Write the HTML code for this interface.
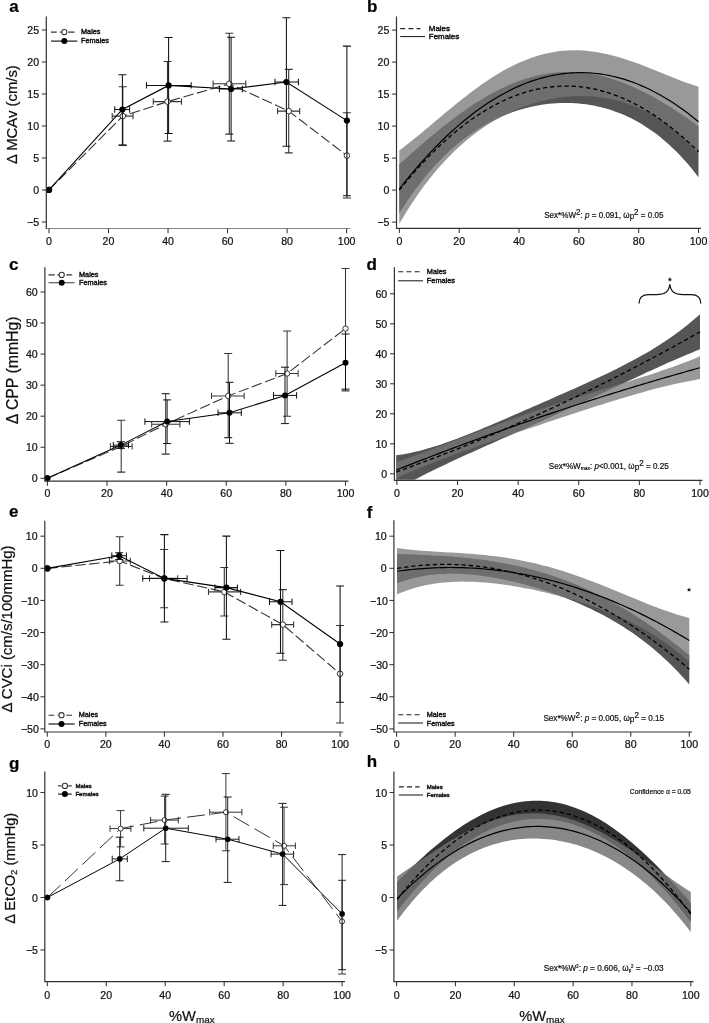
<!DOCTYPE html>
<html><head><meta charset="utf-8"><title>Figure</title>
<style>html,body{margin:0;padding:0;background:#fff}svg{display:block;filter:grayscale(1)}text{font-family:"Liberation Sans",sans-serif;stroke:#111;stroke-width:.22px}text.lg{stroke-width:.42px}</style></head>
<body>
<svg width="709" height="1023" viewBox="0 0 709 1023" font-family="Liberation Sans, sans-serif">
<rect width="709" height="1023" fill="#fff"/>
<clipPath id="cpb"><rect x="397.1" y="16.5" width="320" height="211.3"/></clipPath>
<g clip-path="url(#cpb)">
<path d="M399.3 164.3L403.04 160.96L406.78 157.63L410.52 154.31L414.26 151.01L418 147.74L421.74 144.5L425.48 141.29L429.22 138.11L432.96 134.98L436.7 131.89L440.44 128.84L444.18 125.85L447.92 122.91L451.66 120.03L455.4 117.21L459.14 114.45L462.88 111.76L466.62 109.14L470.36 106.59L474.1 104.12L477.84 101.72L481.58 99.4L485.32 97.17L489.06 95.02L492.8 92.95L496.54 90.97L500.28 89.09L504.02 87.29L507.76 85.59L511.5 83.98L515.24 82.47L518.98 81.05L522.72 79.74L526.46 78.52L530.2 77.41L533.94 76.4L537.68 75.48L541.42 74.68L545.16 73.97L548.9 73.37L552.64 72.88L556.38 72.49L560.12 72.2L563.86 72.02L567.6 71.94L571.34 71.97L575.08 72.1L578.82 72.33L582.56 72.67L586.3 73.11L590.04 73.65L593.78 74.29L597.52 75.04L601.26 75.88L605 76.81L608.74 77.85L612.48 78.98L616.22 80.2L619.96 81.51L623.7 82.91L627.44 84.4L631.18 85.98L634.92 87.64L638.66 89.38L642.4 91.21L646.14 93.1L649.88 95.08L653.62 97.12L657.36 99.24L661.1 101.42L664.84 103.66L668.58 105.96L672.32 108.32L676.06 110.74L679.8 113.2L683.54 115.72L687.28 118.27L691.02 120.87L694.76 123.5L698.5 126.16L698.5 177.25L694.76 172.41L691.02 167.78L687.28 163.36L683.54 159.14L679.8 155.12L676.06 151.29L672.32 147.65L668.58 144.19L664.84 140.9L661.1 137.78L657.36 134.83L653.62 132.03L649.88 129.39L646.14 126.9L642.4 124.55L638.66 122.35L634.92 120.28L631.18 118.35L627.44 116.54L623.7 114.87L619.96 113.31L616.22 111.88L612.48 110.56L608.74 109.35L605 108.25L601.26 107.27L597.52 106.39L593.78 105.61L590.04 104.94L586.3 104.36L582.56 103.89L578.82 103.51L575.08 103.22L571.34 103.03L567.6 102.94L563.86 102.94L560.12 103.02L556.38 103.21L552.64 103.48L548.9 103.84L545.16 104.3L541.42 104.84L537.68 105.48L533.94 106.21L530.2 107.04L526.46 107.96L522.72 108.97L518.98 110.08L515.24 111.29L511.5 112.6L507.76 114.01L504.02 115.53L500.28 117.15L496.54 118.87L492.8 120.71L489.06 122.66L485.32 124.73L481.58 126.92L477.84 129.22L474.1 131.66L470.36 134.22L466.62 136.91L462.88 139.74L459.14 142.72L455.4 145.83L451.66 149.1L447.92 152.52L444.18 156.09L440.44 159.83L436.7 163.74L432.96 167.82L429.22 172.08L425.48 176.53L421.74 181.16L418 185.99L414.26 191.02L410.52 196.26L406.78 201.72L403.04 207.4L399.3 213.3Z" fill="#555555" fill-opacity="1"/>
<path d="M399.3 150.58L403.04 147.74L406.78 144.84L410.52 141.87L414.26 138.86L418 135.79L421.74 132.7L425.48 129.57L429.22 126.43L432.96 123.28L436.7 120.12L440.44 116.97L444.18 113.84L447.92 110.72L451.66 107.63L455.4 104.57L459.14 101.56L462.88 98.58L466.62 95.66L470.36 92.8L474.1 89.99L477.84 87.26L481.58 84.6L485.32 82.01L489.06 79.5L492.8 77.08L496.54 74.75L500.28 72.5L504.02 70.36L507.76 68.31L511.5 66.36L515.24 64.52L518.98 62.79L522.72 61.16L526.46 59.64L530.2 58.23L533.94 56.94L537.68 55.76L541.42 54.69L545.16 53.74L548.9 52.91L552.64 52.19L556.38 51.58L560.12 51.09L563.86 50.72L567.6 50.45L571.34 50.3L575.08 50.26L578.82 50.33L582.56 50.51L586.3 50.79L590.04 51.17L593.78 51.65L597.52 52.23L601.26 52.9L605 53.67L608.74 54.52L612.48 55.45L616.22 56.45L619.96 57.54L623.7 58.69L627.44 59.9L631.18 61.17L634.92 62.5L638.66 63.87L642.4 65.29L646.14 66.74L649.88 68.22L653.62 69.72L657.36 71.24L661.1 72.76L664.84 74.29L668.58 75.81L672.32 77.31L676.06 78.79L679.8 80.24L683.54 81.65L687.28 83L691.02 84.3L694.76 85.53L698.5 86.69L698.5 154.14L694.76 149.91L691.02 145.88L687.28 142.05L683.54 138.42L679.8 134.98L676.06 131.72L672.32 128.64L668.58 125.73L664.84 122.98L661.1 120.4L657.36 117.97L653.62 115.7L649.88 113.57L646.14 111.58L642.4 109.73L638.66 108.01L634.92 106.43L631.18 104.97L627.44 103.63L623.7 102.41L619.96 101.31L616.22 100.33L612.48 99.45L608.74 98.68L605 98.01L601.26 97.45L597.52 96.99L593.78 96.62L590.04 96.36L586.3 96.18L582.56 96.11L578.82 96.12L575.08 96.22L571.34 96.42L567.6 96.7L563.86 97.08L560.12 97.54L556.38 98.09L552.64 98.73L548.9 99.46L545.16 100.27L541.42 101.18L537.68 102.17L533.94 103.26L530.2 104.43L526.46 105.7L522.72 107.07L518.98 108.53L515.24 110.08L511.5 111.74L507.76 113.49L504.02 115.35L500.28 117.32L496.54 119.39L492.8 121.58L489.06 123.87L485.32 126.29L481.58 128.83L477.84 131.49L474.1 134.27L470.36 137.19L466.62 140.24L462.88 143.44L459.14 146.77L455.4 150.25L451.66 153.89L447.92 157.68L444.18 161.64L440.44 165.77L436.7 170.06L432.96 174.54L429.22 179.2L425.48 184.05L421.74 189.1L418 194.35L414.26 199.8L410.52 205.48L406.78 211.37L403.04 217.5L399.3 223.86Z" fill="#777777" fill-opacity="0.75"/>
<path d="M399.3 190.12L403.04 185.5L406.78 180.99L410.52 176.58L414.26 172.28L418 168.09L421.74 164L425.48 160.01L429.22 156.13L432.96 152.35L436.7 148.68L440.44 145.11L444.18 141.65L447.92 138.29L451.66 135.03L455.4 131.88L459.14 128.84L462.88 125.9L466.62 123.07L470.36 120.33L474.1 117.71L477.84 115.19L481.58 112.77L485.32 110.46L489.06 108.25L492.8 106.15L496.54 104.16L500.28 102.26L504.02 100.48L507.76 98.79L511.5 97.21L515.24 95.74L518.98 94.37L522.72 93.11L526.46 91.95L530.2 90.89L533.94 89.94L537.68 89.1L541.42 88.36L545.16 87.72L548.9 87.19L552.64 86.76L556.38 86.44L560.12 86.22L563.86 86.11L567.6 86.1L571.34 86.2L575.08 86.4L578.82 86.71L582.56 87.12L586.3 87.64L590.04 88.26L593.78 88.98L597.52 89.81L601.26 90.75L605 91.79L608.74 92.93L612.48 94.18L616.22 95.53L619.96 96.99L623.7 98.56L627.44 100.22L631.18 102L634.92 103.87L638.66 105.85L642.4 107.94L646.14 110.13L649.88 112.43L653.62 114.83L657.36 117.34L661.1 119.95L664.84 122.66L668.58 125.48L672.32 128.4L676.06 131.43L679.8 134.57L683.54 137.81L687.28 141.15L691.02 144.6L694.76 148.15L698.5 151.81" fill="none" stroke="#000" stroke-width="1.3" stroke-dasharray="4.3 2.9"/>
<path d="M399.3 189L403.04 184.25L406.78 179.6L410.52 175.05L414.26 170.6L418 166.25L421.74 161.99L425.48 157.84L429.22 153.78L432.96 149.83L436.7 145.97L440.44 142.21L444.18 138.55L447.92 134.99L451.66 131.53L455.4 128.16L459.14 124.9L462.88 121.73L466.62 118.67L470.36 115.7L474.1 112.83L477.84 110.06L481.58 107.39L485.32 104.82L489.06 102.35L492.8 99.97L496.54 97.7L500.28 95.52L504.02 93.44L507.76 91.47L511.5 89.59L515.24 87.81L518.98 86.12L522.72 84.54L526.46 83.06L530.2 81.67L533.94 80.39L537.68 79.2L541.42 78.11L545.16 77.12L548.9 76.23L552.64 75.44L556.38 74.75L560.12 74.15L563.86 73.66L567.6 73.26L571.34 72.97L575.08 72.77L578.82 72.67L582.56 72.67L586.3 72.77L590.04 72.97L593.78 73.26L597.52 73.66L601.26 74.15L605 74.75L608.74 75.44L612.48 76.23L616.22 77.12L619.96 78.11L623.7 79.2L627.44 80.38L631.18 81.67L634.92 83.05L638.66 84.54L642.4 86.12L646.14 87.8L649.88 89.58L653.62 91.46L657.36 93.44L661.1 95.52L664.84 97.69L668.58 99.97L672.32 102.34L676.06 104.81L679.8 107.39L683.54 110.06L687.28 112.83L691.02 115.69L694.76 118.66L698.5 121.73" fill="none" stroke="#000" stroke-width="1.2"/>
</g>
<path d="M400.2 28.6H420.5" stroke="#222" stroke-width="1.1" stroke-dasharray="5 3.2"/>
<path d="M400.2 36.6H425" stroke="#111" stroke-width="1.0"/>
<text class="lg" x="428.8" y="31.46" font-size="7.95" fill="#111">Males</text>
<text class="lg" x="428.8" y="39.46" font-size="7.95" fill="#111">Females</text>
<clipPath id="cpd"><rect x="395" y="267.3" width="320" height="212.5"/></clipPath>
<g clip-path="url(#cpd)">
<path d="M396.2 455.33L400 454.8L403.8 454.18L407.59 453.47L411.39 452.69L415.19 451.84L418.99 450.91L422.78 449.92L426.58 448.87L430.38 447.76L434.18 446.6L437.97 445.39L441.77 444.13L445.57 442.83L449.37 441.48L453.16 440.1L456.96 438.69L460.76 437.25L464.56 435.78L468.35 434.28L472.15 432.76L475.95 431.22L479.75 429.66L483.54 428.08L487.34 426.49L491.14 424.89L494.94 423.27L498.73 421.65L502.53 420.02L506.33 418.38L510.12 416.74L513.92 415.09L517.72 413.43L521.52 411.78L525.32 410.12L529.11 408.46L532.91 406.8L536.71 405.13L540.5 403.47L544.3 401.8L548.1 400.14L551.9 398.47L555.69 396.8L559.49 395.12L563.29 393.45L567.09 391.77L570.88 390.08L574.68 388.39L578.48 386.69L582.28 384.98L586.08 383.26L589.87 381.53L593.67 379.78L597.47 378.02L601.26 376.25L605.06 374.45L608.86 372.63L612.66 370.79L616.45 368.92L620.25 367.02L624.05 365.08L627.85 363.12L631.64 361.11L635.44 359.06L639.24 356.97L643.04 354.83L646.84 352.64L650.63 350.39L654.43 348.08L658.23 345.71L662.02 343.27L665.82 340.76L669.62 338.18L673.42 335.51L677.21 332.76L681.01 329.92L684.81 326.98L688.61 323.94L692.4 320.8L696.2 317.55L700 314.18L700 349.36L696.2 350.87L692.4 352.4L688.61 353.96L684.81 355.54L681.01 357.15L677.21 358.78L673.42 360.42L669.62 362.09L665.82 363.77L662.02 365.47L658.23 367.18L654.43 368.9L650.63 370.63L646.84 372.37L643.04 374.13L639.24 375.88L635.44 377.65L631.64 379.42L627.85 381.19L624.05 382.97L620.25 384.75L616.45 386.53L612.66 388.32L608.86 390.1L605.06 391.88L601.26 393.66L597.47 395.44L593.67 397.22L589.87 398.99L586.08 400.76L582.28 402.53L578.48 404.29L574.68 406.05L570.88 407.8L567.09 409.55L563.29 411.29L559.49 413.03L555.69 414.76L551.9 416.49L548.1 418.21L544.3 419.93L540.5 421.64L536.71 423.35L532.91 425.05L529.11 426.75L525.32 428.45L521.52 430.14L517.72 431.83L513.92 433.52L510.12 435.21L506.33 436.89L502.53 438.58L498.73 440.26L494.94 441.94L491.14 443.63L487.34 445.32L483.54 447.02L479.75 448.71L475.95 450.42L472.15 452.13L468.35 453.84L464.56 455.57L460.76 457.31L456.96 459.05L453.16 460.81L449.37 462.59L445.57 464.38L441.77 466.18L437.97 468.01L434.18 469.85L430.38 471.72L426.58 473.61L422.78 475.52L418.99 477.46L415.19 479.43L411.39 481.43L407.59 483.46L403.8 485.53L400 487.63L396.2 489.77Z" fill="#555555" fill-opacity="1"/>
<path d="M396.2 461.99L400 460.73L403.8 459.44L407.59 458.13L411.39 456.8L415.19 455.45L418.99 454.08L422.78 452.7L426.58 451.31L430.38 449.91L434.18 448.49L437.97 447.07L441.77 445.64L445.57 444.2L449.37 442.76L453.16 441.31L456.96 439.87L460.76 438.42L464.56 436.97L468.35 435.53L472.15 434.08L475.95 432.64L479.75 431.21L483.54 429.78L487.34 428.35L491.14 426.93L494.94 425.52L498.73 424.11L502.53 422.72L506.33 421.33L510.12 419.95L513.92 418.59L517.72 417.23L521.52 415.88L525.32 414.54L529.11 413.21L532.91 411.9L536.71 410.59L540.5 409.29L544.3 408.01L548.1 406.73L551.9 405.47L555.69 404.22L559.49 402.97L563.29 401.74L567.09 400.51L570.88 399.3L574.68 398.09L578.48 396.89L582.28 395.7L586.08 394.51L589.87 393.33L593.67 392.15L597.47 390.98L601.26 389.81L605.06 388.64L608.86 387.48L612.66 386.31L616.45 385.15L620.25 383.98L624.05 382.81L627.85 381.63L631.64 380.45L635.44 379.26L639.24 378.07L643.04 376.86L646.84 375.64L650.63 374.41L654.43 373.16L658.23 371.9L662.02 370.61L665.82 369.31L669.62 367.99L673.42 366.64L677.21 365.26L681.01 363.86L684.81 362.43L688.61 360.96L692.4 359.46L696.2 357.93L700 356.35L700 379.08L696.2 379.72L692.4 380.41L688.61 381.13L684.81 381.89L681.01 382.68L677.21 383.51L673.42 384.36L669.62 385.25L665.82 386.16L662.02 387.1L658.23 388.06L654.43 389.04L650.63 390.05L646.84 391.08L643.04 392.13L639.24 393.2L635.44 394.28L631.64 395.38L627.85 396.5L624.05 397.63L620.25 398.77L616.45 399.93L612.66 401.1L608.86 402.28L605.06 403.47L601.26 404.67L597.47 405.87L593.67 407.09L589.87 408.31L586.08 409.54L582.28 410.78L578.48 412.02L574.68 413.26L570.88 414.51L567.09 415.77L563.29 417.03L559.49 418.29L555.69 419.55L551.9 420.82L548.1 422.1L544.3 423.37L540.5 424.65L536.71 425.93L532.91 427.21L529.11 428.49L525.32 429.78L521.52 431.07L517.72 432.36L513.92 433.66L510.12 434.96L506.33 436.26L502.53 437.57L498.73 438.88L494.94 440.19L491.14 441.51L487.34 442.83L483.54 444.16L479.75 445.5L475.95 446.84L472.15 448.19L468.35 449.55L464.56 450.92L460.76 452.3L456.96 453.69L453.16 455.08L449.37 456.49L445.57 457.92L441.77 459.36L437.97 460.81L434.18 462.27L430.38 463.76L426.58 465.26L422.78 466.78L418.99 468.32L415.19 469.89L411.39 471.47L407.59 473.08L403.8 474.71L400 476.38L396.2 478.06Z" fill="#777777" fill-opacity="0.75"/>
<path d="M396.2 472.03L400 470.67L403.8 469.3L407.59 467.92L411.39 466.54L415.19 465.14L418.99 463.73L422.78 462.31L426.58 460.88L430.38 459.44L434.18 458L437.97 456.54L441.77 455.07L445.57 453.59L449.37 452.1L453.16 450.61L456.96 449.1L460.76 447.58L464.56 446.05L468.35 444.51L472.15 442.97L475.95 441.41L479.75 439.84L483.54 438.26L487.34 436.68L491.14 435.08L494.94 433.47L498.73 431.85L502.53 430.23L506.33 428.59L510.12 426.94L513.92 425.29L517.72 423.62L521.52 421.94L525.32 420.25L529.11 418.56L532.91 416.85L536.71 415.13L540.5 413.41L544.3 411.67L548.1 409.92L551.9 408.17L555.69 406.4L559.49 404.62L563.29 402.84L567.09 401.04L570.88 399.24L574.68 397.42L578.48 395.59L582.28 393.76L586.08 391.91L589.87 390.06L593.67 388.19L597.47 386.31L601.26 384.43L605.06 382.53L608.86 380.63L612.66 378.71L616.45 376.78L620.25 374.85L624.05 372.9L627.85 370.95L631.64 368.98L635.44 367.01L639.24 365.02L643.04 363.03L646.84 361.02L650.63 359.01L654.43 356.98L658.23 354.95L662.02 352.9L665.82 350.85L669.62 348.78L673.42 346.71L677.21 344.62L681.01 342.53L684.81 340.42L688.61 338.31L692.4 336.18L696.2 334.05L700 331.91" fill="none" stroke="#000" stroke-width="1.3" stroke-dasharray="4.3 2.9"/>
<path d="M396.2 470.07L400 468.56L403.8 467.07L407.59 465.57L411.39 464.09L415.19 462.61L418.99 461.13L422.78 459.66L426.58 458.2L430.38 456.74L434.18 455.29L437.97 453.84L441.77 452.4L445.57 450.96L449.37 449.54L453.16 448.11L456.96 446.69L460.76 445.28L464.56 443.87L468.35 442.47L472.15 441.08L475.95 439.69L479.75 438.3L483.54 436.92L487.34 435.55L491.14 434.18L494.94 432.82L498.73 431.47L502.53 430.11L506.33 428.77L510.12 427.43L513.92 426.1L517.72 424.77L521.52 423.45L525.32 422.13L529.11 420.82L532.91 419.52L536.71 418.22L540.5 416.92L544.3 415.64L548.1 414.35L551.9 413.08L555.69 411.81L559.49 410.54L563.29 409.28L567.09 408.03L570.88 406.78L574.68 405.54L578.48 404.3L582.28 403.07L586.08 401.84L589.87 400.62L593.67 399.41L597.47 398.2L601.26 397L605.06 395.8L608.86 394.61L612.66 393.42L616.45 392.24L620.25 391.07L624.05 389.9L627.85 388.74L631.64 387.58L635.44 386.43L639.24 385.28L643.04 384.14L646.84 383.01L650.63 381.88L654.43 380.75L658.23 379.63L662.02 378.52L665.82 377.42L669.62 376.32L673.42 375.22L677.21 374.13L681.01 373.05L684.81 371.97L688.61 370.9L692.4 369.83L696.2 368.77L700 367.71" fill="none" stroke="#000" stroke-width="1.2"/>
</g>
<path d="M398.2 271.7H419.6" stroke="#222" stroke-width="1.1" stroke-dasharray="5 3.2"/>
<path d="M398.2 280.8H423" stroke="#111" stroke-width="1.0"/>
<text class="lg" x="426.8" y="274.35" font-size="7.36" fill="#111">Males</text>
<text class="lg" x="426.8" y="283.45" font-size="7.36" fill="#111">Females</text>
<clipPath id="cpf"><rect x="394.5" y="520.3" width="320" height="211.2"/></clipPath>
<g clip-path="url(#cpf)">
<path d="M397 553.95L400.65 554.08L404.31 554.21L407.96 554.34L411.62 554.47L415.27 554.61L418.92 554.76L422.58 554.91L426.23 555.08L429.88 555.25L433.54 555.44L437.19 555.64L440.84 555.86L444.5 556.09L448.15 556.34L451.81 556.61L455.46 556.9L459.11 557.21L462.77 557.55L466.42 557.9L470.07 558.29L473.73 558.7L477.38 559.13L481.04 559.6L484.69 560.09L488.34 560.62L492 561.18L495.65 561.77L499.3 562.39L502.96 563.04L506.61 563.74L510.27 564.46L513.92 565.23L517.57 566.03L521.23 566.87L524.88 567.75L528.53 568.67L532.19 569.63L535.84 570.63L539.5 571.68L543.15 572.77L546.8 573.89L550.46 575.07L554.11 576.29L557.76 577.55L561.42 578.86L565.07 580.21L568.73 581.61L572.38 583.06L576.03 584.55L579.69 586.09L583.34 587.68L587 589.32L590.65 591.01L594.3 592.74L597.96 594.53L601.61 596.36L605.26 598.24L608.92 600.17L612.57 602.16L616.22 604.19L619.88 606.27L623.53 608.4L627.19 610.58L630.84 612.81L634.49 615.09L638.15 617.42L641.8 619.81L645.45 622.24L649.11 624.72L652.76 627.25L656.42 629.83L660.07 632.45L663.72 635.13L667.38 637.86L671.03 640.63L674.68 643.45L678.34 646.32L681.99 649.24L685.65 652.2L689.3 655.21L689.3 684.55L685.65 680.33L681.99 676.25L678.34 672.32L674.68 668.52L671.03 664.85L667.38 661.31L663.72 657.88L660.07 654.58L656.42 651.38L652.76 648.3L649.11 645.31L645.45 642.43L641.8 639.64L638.15 636.95L634.49 634.34L630.84 631.82L627.19 629.39L623.53 627.03L619.88 624.74L616.22 622.53L612.57 620.39L608.92 618.31L605.26 616.3L601.61 614.35L597.96 612.46L594.3 610.63L590.65 608.86L587 607.13L583.34 605.46L579.69 603.84L576.03 602.26L572.38 600.73L568.73 599.25L565.07 597.81L561.42 596.41L557.76 595.05L554.11 593.74L550.46 592.46L546.8 591.23L543.15 590.03L539.5 588.87L535.84 587.75L532.19 586.67L528.53 585.62L524.88 584.61L521.23 583.65L517.57 582.72L513.92 581.83L510.27 580.97L506.61 580.16L502.96 579.39L499.3 578.67L495.65 577.98L492 577.35L488.34 576.75L484.69 576.21L481.04 575.71L477.38 575.27L473.73 574.87L470.07 574.54L466.42 574.25L462.77 574.03L459.11 573.87L455.46 573.77L451.81 573.74L448.15 573.78L444.5 573.89L440.84 574.07L437.19 574.33L433.54 574.67L429.88 575.1L426.23 575.62L422.58 576.22L418.92 576.92L415.27 577.72L411.62 578.62L407.96 579.63L404.31 580.76L400.65 581.99L397 583.35Z" fill="#555555" fill-opacity="1"/>
<path d="M397 548.09L400.65 548.6L404.31 549.05L407.96 549.47L411.62 549.84L415.27 550.19L418.92 550.5L422.58 550.78L426.23 551.04L429.88 551.29L433.54 551.52L437.19 551.74L440.84 551.96L444.5 552.17L448.15 552.38L451.81 552.59L455.46 552.81L459.11 553.04L462.77 553.28L466.42 553.53L470.07 553.8L473.73 554.09L477.38 554.4L481.04 554.73L484.69 555.09L488.34 555.48L492 555.89L495.65 556.34L499.3 556.82L502.96 557.33L506.61 557.87L510.27 558.45L513.92 559.07L517.57 559.72L521.23 560.41L524.88 561.14L528.53 561.91L532.19 562.72L535.84 563.57L539.5 564.46L543.15 565.39L546.8 566.35L550.46 567.36L554.11 568.4L557.76 569.48L561.42 570.6L565.07 571.76L568.73 572.95L572.38 574.17L576.03 575.43L579.69 576.72L583.34 578.04L587 579.39L590.65 580.76L594.3 582.16L597.96 583.58L601.61 585.02L605.26 586.49L608.92 587.96L612.57 589.45L616.22 590.95L619.88 592.46L623.53 593.98L627.19 595.49L630.84 597.01L634.49 598.52L638.15 600.02L641.8 601.52L645.45 602.99L649.11 604.45L652.76 605.88L656.42 607.29L660.07 608.67L663.72 610.01L667.38 611.31L671.03 612.57L674.68 613.78L678.34 614.93L681.99 616.03L685.65 617.06L689.3 618.02L689.3 662.16L685.65 658.89L681.99 655.75L678.34 652.72L674.68 649.81L671.03 647.01L667.38 644.32L663.72 641.72L660.07 639.22L656.42 636.82L652.76 634.5L649.11 632.27L645.45 630.12L641.8 628.05L638.15 626.05L634.49 624.13L630.84 622.27L627.19 620.48L623.53 618.75L619.88 617.08L616.22 615.46L612.57 613.9L608.92 612.39L605.26 610.93L601.61 609.52L597.96 608.15L594.3 606.82L590.65 605.54L587 604.29L583.34 603.09L579.69 601.92L576.03 600.78L572.38 599.68L568.73 598.61L565.07 597.58L561.42 596.57L557.76 595.6L554.11 594.65L550.46 593.74L546.8 592.85L543.15 591.99L539.5 591.17L535.84 590.37L532.19 589.6L528.53 588.85L524.88 588.14L521.23 587.46L517.57 586.81L513.92 586.19L510.27 585.61L506.61 585.06L502.96 584.54L499.3 584.06L495.65 583.61L492 583.21L488.34 582.85L484.69 582.52L481.04 582.25L477.38 582.02L473.73 581.84L470.07 581.71L466.42 581.63L462.77 581.61L459.11 581.65L455.46 581.74L451.81 581.91L448.15 582.14L444.5 582.44L440.84 582.81L437.19 583.26L433.54 583.8L429.88 584.41L426.23 585.12L422.58 585.91L418.92 586.8L415.27 587.8L411.62 588.89L407.96 590.1L404.31 591.42L400.65 592.85L397 594.41Z" fill="#777777" fill-opacity="0.75"/>
<path d="M397 568.43L400.65 567.84L404.31 567.29L407.96 566.79L411.62 566.34L415.27 565.93L418.92 565.58L422.58 565.26L426.23 565L429.88 564.78L433.54 564.61L437.19 564.49L440.84 564.41L444.5 564.38L448.15 564.4L451.81 564.46L455.46 564.57L459.11 564.73L462.77 564.93L466.42 565.19L470.07 565.48L473.73 565.83L477.38 566.22L481.04 566.66L484.69 567.15L488.34 567.68L492 568.26L495.65 568.89L499.3 569.56L502.96 570.28L506.61 571.05L510.27 571.87L513.92 572.73L517.57 573.64L521.23 574.59L524.88 575.59L528.53 576.64L532.19 577.74L535.84 578.88L539.5 580.07L543.15 581.31L546.8 582.59L550.46 583.92L554.11 585.3L557.76 586.72L561.42 588.2L565.07 589.71L568.73 591.28L572.38 592.89L576.03 594.55L579.69 596.26L583.34 598.01L587 599.81L590.65 601.66L594.3 603.55L597.96 605.49L601.61 607.48L605.26 609.51L608.92 611.59L612.57 613.72L616.22 615.9L619.88 618.12L623.53 620.39L627.19 622.71L630.84 625.07L634.49 627.48L638.15 629.94L641.8 632.44L645.45 634.99L649.11 637.59L652.76 640.23L656.42 642.92L660.07 645.66L663.72 648.45L667.38 651.28L671.03 654.16L674.68 657.08L678.34 660.06L681.99 663.08L685.65 666.14L689.3 669.26" fill="none" stroke="#000" stroke-width="1.3" stroke-dasharray="4.3 2.9"/>
<path d="M397 571.23L400.65 570.74L404.31 570.29L407.96 569.87L411.62 569.48L415.27 569.13L418.92 568.82L422.58 568.54L426.23 568.29L429.88 568.08L433.54 567.9L437.19 567.75L440.84 567.64L444.5 567.57L448.15 567.52L451.81 567.52L455.46 567.54L459.11 567.6L462.77 567.7L466.42 567.83L470.07 567.99L473.73 568.19L477.38 568.42L481.04 568.69L484.69 568.99L488.34 569.33L492 569.7L495.65 570.1L499.3 570.54L502.96 571.01L506.61 571.52L510.27 572.06L513.92 572.63L517.57 573.24L521.23 573.88L524.88 574.56L528.53 575.27L532.19 576.02L535.84 576.8L539.5 577.62L543.15 578.46L546.8 579.35L550.46 580.27L554.11 581.22L557.76 582.2L561.42 583.22L565.07 584.28L568.73 585.37L572.38 586.49L576.03 587.65L579.69 588.84L583.34 590.07L587 591.33L590.65 592.62L594.3 593.95L597.96 595.32L601.61 596.71L605.26 598.14L608.92 599.61L612.57 601.11L616.22 602.65L619.88 604.21L623.53 605.82L627.19 607.45L630.84 609.13L634.49 610.83L638.15 612.57L641.8 614.35L645.45 616.16L649.11 618L652.76 619.88L656.42 621.79L660.07 623.73L663.72 625.71L667.38 627.73L671.03 629.78L674.68 631.86L678.34 633.98L681.99 636.13L685.65 638.31L689.3 640.53" fill="none" stroke="#000" stroke-width="1.2"/>
</g>
<path d="M398.2 714.7H419.6" stroke="#222" stroke-width="1.1" stroke-dasharray="5 3.2"/>
<path d="M398.2 723H423" stroke="#111" stroke-width="1.0"/>
<text class="lg" x="426.8" y="717.31" font-size="7.25" fill="#111">Males</text>
<text class="lg" x="426.8" y="725.61" font-size="7.25" fill="#111">Females</text>
<clipPath id="cph"><rect x="394.5" y="771.6" width="320" height="209.5"/></clipPath>
<g clip-path="url(#cph)">
<path d="M397.1 882.02L400.77 878.31L404.44 874.64L408.11 871.03L411.79 867.47L415.46 863.97L419.13 860.53L422.8 857.15L426.47 853.85L430.14 850.62L433.81 847.47L437.48 844.39L441.16 841.4L444.83 838.5L448.5 835.68L452.17 832.96L455.84 830.33L459.51 827.79L463.18 825.36L466.85 823.03L470.52 820.81L474.2 818.69L477.87 816.68L481.54 814.78L485.21 813L488.88 811.33L492.55 809.78L496.22 808.34L499.89 807.03L503.57 805.83L507.24 804.76L510.91 803.81L514.58 802.98L518.25 802.29L521.92 801.71L525.59 801.27L529.26 800.95L532.94 800.75L536.61 800.69L540.28 800.76L543.95 800.95L547.62 801.28L551.29 801.73L554.96 802.31L558.63 803.02L562.31 803.85L565.98 804.82L569.65 805.91L573.32 807.13L576.99 808.47L580.66 809.94L584.33 811.53L588 813.25L591.68 815.08L595.35 817.04L599.02 819.11L602.69 821.3L606.36 823.6L610.03 826.02L613.7 828.55L617.38 831.19L621.05 833.94L624.72 836.79L628.39 839.75L632.06 842.81L635.73 845.96L639.4 849.21L643.07 852.55L646.74 855.98L650.42 859.5L654.09 863.11L657.76 866.79L661.43 870.55L665.1 874.38L668.77 878.29L672.44 882.26L676.12 886.29L679.79 890.39L683.46 894.54L687.13 898.74L690.8 902.98L690.8 921.95L687.13 917.16L683.46 912.47L679.79 907.9L676.12 903.43L672.44 899.07L668.77 894.82L665.1 890.68L661.43 886.65L657.76 882.73L654.09 878.92L650.42 875.23L646.74 871.65L643.07 868.18L639.4 864.83L635.73 861.59L632.06 858.46L628.39 855.45L624.72 852.56L621.05 849.78L617.38 847.12L613.7 844.57L610.03 842.15L606.36 839.84L602.69 837.65L599.02 835.58L595.35 833.63L591.68 831.79L588 830.08L584.33 828.49L580.66 827.02L576.99 825.67L573.32 824.44L569.65 823.33L565.98 822.34L562.31 821.48L558.63 820.74L554.96 820.12L551.29 819.62L547.62 819.25L543.95 819L540.28 818.88L536.61 818.88L532.94 819L529.26 819.25L525.59 819.62L521.92 820.11L518.25 820.73L514.58 821.48L510.91 822.35L507.24 823.35L503.57 824.47L499.89 825.71L496.22 827.08L492.55 828.58L488.88 830.2L485.21 831.95L481.54 833.83L477.87 835.83L474.2 837.95L470.52 840.2L466.85 842.58L463.18 845.08L459.51 847.71L455.84 850.47L452.17 853.34L448.5 856.35L444.83 859.48L441.16 862.74L437.48 866.12L433.81 869.62L430.14 873.26L426.47 877.01L422.8 880.89L419.13 884.9L415.46 889.03L411.79 893.28L408.11 897.66L404.44 902.17L400.77 906.79L397.1 911.54Z" fill="#333333" fill-opacity="1"/>
<path d="M397.1 876.6L400.77 874.11L404.44 871.59L408.11 869.06L411.79 866.52L415.46 863.97L419.13 861.43L422.8 858.91L426.47 856.4L430.14 853.91L433.81 851.45L437.48 849.03L441.16 846.66L444.83 844.33L448.5 842.05L452.17 839.83L455.84 837.67L459.51 835.59L463.18 833.57L466.85 831.63L470.52 829.77L474.2 827.99L477.87 826.31L481.54 824.71L485.21 823.21L488.88 821.8L492.55 820.5L496.22 819.3L499.89 818.2L503.57 817.21L507.24 816.33L510.91 815.56L514.58 814.9L518.25 814.36L521.92 813.93L525.59 813.62L529.26 813.42L532.94 813.34L536.61 813.37L540.28 813.53L543.95 813.8L547.62 814.18L551.29 814.68L554.96 815.3L558.63 816.03L562.31 816.88L565.98 817.83L569.65 818.89L573.32 820.07L576.99 821.34L580.66 822.72L584.33 824.2L588 825.78L591.68 827.46L595.35 829.22L599.02 831.08L602.69 833.01L606.36 835.03L610.03 837.13L613.7 839.3L617.38 841.54L621.05 843.84L624.72 846.2L628.39 848.62L632.06 851.08L635.73 853.59L639.4 856.14L643.07 858.71L646.74 861.31L650.42 863.94L654.09 866.57L657.76 869.21L661.43 871.85L665.1 874.48L668.77 877.09L672.44 879.69L676.12 882.25L679.79 884.77L683.46 887.24L687.13 889.66L690.8 892.01L690.8 932.1L687.13 927.31L683.46 922.68L679.79 918.22L676.12 913.9L672.44 909.74L668.77 905.73L665.1 901.86L661.43 898.13L657.76 894.53L654.09 891.07L650.42 887.75L646.74 884.55L643.07 881.47L639.4 878.52L635.73 875.69L632.06 872.97L628.39 870.38L624.72 867.89L621.05 865.52L617.38 863.25L613.7 861.1L610.03 859.04L606.36 857.1L602.69 855.25L599.02 853.51L595.35 851.86L591.68 850.32L588 848.87L584.33 847.52L580.66 846.27L576.99 845.11L573.32 844.04L569.65 843.07L565.98 842.19L562.31 841.41L558.63 840.72L554.96 840.12L551.29 839.62L547.62 839.21L543.95 838.89L540.28 838.67L536.61 838.54L532.94 838.51L529.26 838.57L525.59 838.73L521.92 838.99L518.25 839.35L514.58 839.81L510.91 840.37L507.24 841.04L503.57 841.8L499.89 842.68L496.22 843.66L492.55 844.76L488.88 845.96L485.21 847.28L481.54 848.72L477.87 850.28L474.2 851.96L470.52 853.76L466.85 855.69L463.18 857.74L459.51 859.93L455.84 862.26L452.17 864.72L448.5 867.33L444.83 870.08L441.16 872.98L437.48 876.03L433.81 879.24L430.14 882.61L426.47 886.14L422.8 889.85L419.13 893.72L415.46 897.77L411.79 902L408.11 906.42L404.44 911.02L400.77 915.82L397.1 920.82Z" fill="#707070" fill-opacity="0.833"/>
<path d="M397.1 899.44L400.77 894.86L404.44 890.39L408.11 886.05L411.79 881.82L415.46 877.72L419.13 873.74L422.8 869.88L426.47 866.14L430.14 862.52L433.81 859.02L437.48 855.64L441.16 852.39L444.83 849.25L448.5 846.23L452.17 843.34L455.84 840.57L459.51 837.91L463.18 835.38L466.85 832.97L470.52 830.68L474.2 828.51L477.87 826.46L481.54 824.53L485.21 822.72L488.88 821.04L492.55 819.47L496.22 818.02L499.89 816.7L503.57 815.5L507.24 814.41L510.91 813.45L514.58 812.61L518.25 811.89L521.92 811.29L525.59 810.81L529.26 810.45L532.94 810.22L536.61 810.1L540.28 810.1L543.95 810.23L547.62 810.47L551.29 810.84L554.96 811.33L558.63 811.94L562.31 812.67L565.98 813.52L569.65 814.49L573.32 815.58L576.99 816.79L580.66 818.12L584.33 819.58L588 821.15L591.68 822.85L595.35 824.66L599.02 826.6L602.69 828.66L606.36 830.84L610.03 833.14L613.7 835.56L617.38 838.1L621.05 840.76L624.72 843.54L628.39 846.44L632.06 849.47L635.73 852.61L639.4 855.88L643.07 859.26L646.74 862.77L650.42 866.4L654.09 870.15L657.76 874.02L661.43 878.01L665.1 882.12L668.77 886.35L672.44 890.7L676.12 895.18L679.79 899.77L683.46 904.49L687.13 909.32L690.8 914.28" fill="none" stroke="#000" stroke-width="1.3" stroke-dasharray="4.3 2.9"/>
<path d="M397.1 898.75L400.77 895.01L404.44 891.38L408.11 887.85L411.79 884.41L415.46 881.07L419.13 877.84L422.8 874.7L426.47 871.66L430.14 868.72L433.81 865.88L437.48 863.13L441.16 860.49L444.83 857.94L448.5 855.5L452.17 853.15L455.84 850.9L459.51 848.75L463.18 846.7L466.85 844.75L470.52 842.89L474.2 841.14L477.87 839.48L481.54 837.92L485.21 836.47L488.88 835.11L492.55 833.85L496.22 832.69L499.89 831.62L503.57 830.66L507.24 829.8L510.91 829.03L514.58 828.36L518.25 827.8L521.92 827.33L525.59 826.96L529.26 826.68L532.94 826.51L536.61 826.44L540.28 826.46L543.95 826.59L547.62 826.81L551.29 827.13L554.96 827.55L558.63 828.07L562.31 828.69L565.98 829.41L569.65 830.22L573.32 831.14L576.99 832.15L580.66 833.27L584.33 834.48L588 835.79L591.68 837.2L595.35 838.71L599.02 840.31L602.69 842.02L606.36 843.82L610.03 845.73L613.7 847.73L617.38 849.83L621.05 852.03L624.72 854.33L628.39 856.73L632.06 859.23L635.73 861.82L639.4 864.52L643.07 867.31L646.74 870.2L650.42 873.2L654.09 876.29L657.76 879.48L661.43 882.76L665.1 886.15L668.77 889.64L672.44 893.22L676.12 896.9L679.79 900.69L683.46 904.57L687.13 908.55L690.8 912.63" fill="none" stroke="#000" stroke-width="1.2"/>
</g>
<path d="M398.8 786.9H419.6" stroke="#222" stroke-width="1.1" stroke-dasharray="5 3.2"/>
<path d="M398.8 795H423" stroke="#111" stroke-width="1.0"/>
<text class="lg" x="426.8" y="789.04" font-size="5.95" fill="#111">Males</text>
<text class="lg" x="426.8" y="797.14" font-size="5.95" fill="#111">Females</text>
<path d="M122.8 86.7V145.4M118.8 86.7h8M118.8 145.4h8M112.2 116.1H133M112.2 112.9v6.4M133 112.9v6.4M167.5 61.5V141.1M163.5 61.5h8M163.5 141.1h8M153.3 101.6H181.5M153.3 98.4v6.4M181.5 98.4v6.4M229.3 33.2V134.1M225.3 33.2h8M225.3 134.1h8M213.1 83.8H245.8M213.1 80.6v6.4M245.8 80.6v6.4M288.7 69.4V152.9M284.7 69.4h8M284.7 152.9h8M277.6 111.1H299.7M277.6 107.9v6.4M299.7 107.9v6.4M346.9 112.7V198M342.9 112.7h8M342.9 198h8" fill="none" stroke="#363636" stroke-width="1.1"/>
<path d="M49 189.9L122.8 116.1L167.5 101.6L229.3 83.8L288.7 111.1L346.9 155.6" fill="none" stroke="#333" stroke-width="1.1" stroke-dasharray="10.5 3.5"/>
<circle cx="49" cy="189.9" r="2.8" fill="#fff" stroke="#333" stroke-width="1"/>
<circle cx="122.8" cy="116.1" r="2.8" fill="#fff" stroke="#333" stroke-width="1"/>
<circle cx="167.5" cy="101.6" r="2.8" fill="#fff" stroke="#333" stroke-width="1"/>
<circle cx="229.3" cy="83.8" r="2.8" fill="#fff" stroke="#333" stroke-width="1"/>
<circle cx="288.7" cy="111.1" r="2.8" fill="#fff" stroke="#333" stroke-width="1"/>
<circle cx="346.9" cy="155.6" r="2.8" fill="#fff" stroke="#333" stroke-width="1"/>
<path d="M122.4 74.8V145M118.4 74.8h8M118.4 145h8M114.7 109.5H129.6M114.7 106.3v6.4M129.6 106.3v6.4M168.6 37.5V133.4M164.6 37.5h8M164.6 133.4h8M146.5 85.4H191.2M146.5 82.2v6.4M191.2 82.2v6.4M231.1 37.3V140.9M227.1 37.3h8M227.1 140.9h8M219.4 89H242.4M219.4 85.8v6.4M242.4 85.8v6.4M286.4 17.7V146.3M282.4 17.7h8M282.4 146.3h8M274.9 82H298.4M274.9 78.8v6.4M298.4 78.8v6.4M346.9 46.1V195.7M342.9 46.1h8M342.9 195.7h8" fill="none" stroke="#111" stroke-width="1.05"/>
<path d="M49 189.9L122.4 109.5L168.6 85.4L231.1 89L286.4 82L346.9 120.6" fill="none" stroke="#000" stroke-width="1.1"/>
<circle cx="49" cy="189.9" r="3.1" fill="#000"/>
<circle cx="122.4" cy="109.5" r="3.1" fill="#000"/>
<circle cx="168.6" cy="85.4" r="3.1" fill="#000"/>
<circle cx="231.1" cy="89" r="3.1" fill="#000"/>
<circle cx="286.4" cy="82" r="3.1" fill="#000"/>
<circle cx="346.9" cy="120.6" r="3.1" fill="#000"/>
<path d="M51 32.1H56.7M59.8 32.1H61.2M68.3 32.1H74.5" stroke="#333" stroke-width="1.1"/>
<circle cx="64.3" cy="32.1" r="2.6" fill="#fff" stroke="#333" stroke-width="1.05"/>
<path d="M51 41.1H77.3" stroke="#111" stroke-width="1.15"/>
<circle cx="64.3" cy="41.1" r="3.0" fill="#000"/>
<text class="lg" x="81" y="34.2" font-size="7.3" fill="#111">Males</text>
<text class="lg" x="81" y="43.4" font-size="7.3" fill="#111">Females</text>
<path d="M121.2 420.2V472.1M117.2 420.2h8M117.2 472.1h8M110.4 446.4H132.1M110.4 443.2v6.4M132.1 443.2v6.4M165.7 393.6V454.1M161.7 393.6h8M161.7 454.1h8M151.7 424.3H179.9M151.7 421.1v6.4M179.9 421.1v6.4M228.2 353.4V437.6M224.2 353.4h8M224.2 437.6h8M211.5 395.9H244.2M211.5 392.7v6.4M244.2 392.7v6.4M287.1 330.9V416.2M283.1 330.9h8M283.1 416.2h8M275.8 373.5H298.1M275.8 370.3v6.4M298.1 370.3v6.4M345.5 268.4V389.1M341.5 268.4h8M341.5 389.1h8" fill="none" stroke="#363636" stroke-width="1.05"/>
<path d="M47.4 478.2L121.2 446.4L165.7 424.3L228.2 395.9L287.1 373.5L345.5 328.6" fill="none" stroke="#333" stroke-width="1.05" stroke-dasharray="10.5 3.5"/>
<circle cx="47.4" cy="478.2" r="2.7" fill="#fff" stroke="#333" stroke-width="1"/>
<circle cx="121.2" cy="446.4" r="2.7" fill="#fff" stroke="#333" stroke-width="1"/>
<circle cx="165.7" cy="424.3" r="2.7" fill="#fff" stroke="#333" stroke-width="1"/>
<circle cx="228.2" cy="395.9" r="2.7" fill="#fff" stroke="#333" stroke-width="1"/>
<circle cx="287.1" cy="373.5" r="2.7" fill="#fff" stroke="#333" stroke-width="1"/>
<circle cx="345.5" cy="328.6" r="2.7" fill="#fff" stroke="#333" stroke-width="1"/>
<path d="M120.8 441.7V448.4M116.8 441.7h8M116.8 448.4h8M113.3 445.1H128.5M113.3 441.9v6.4M128.5 441.9v6.4M167.1 399.9V443.5M163.1 399.9h8M163.1 443.5h8M144.9 421.6H189.4M144.9 418.4v6.4M189.4 418.4v6.4M229.5 382.3V443.3M225.5 382.3h8M225.5 443.3h8M218 412.8H241.3M218 409.6v6.4M241.3 409.6v6.4M285 367.2V423.6M281 367.2h8M281 423.6h8M273.5 395.4H296.6M273.5 392.2v6.4M296.6 392.2v6.4M345.5 334V390.9M341.5 334h8M341.5 390.9h8" fill="none" stroke="#111" stroke-width="1.0"/>
<path d="M47.4 478.2L120.8 445.1L167.1 421.6L229.5 412.8L285 395.4L345.5 362.7" fill="none" stroke="#000" stroke-width="1.05"/>
<circle cx="47.4" cy="478.2" r="3.0" fill="#000"/>
<circle cx="120.8" cy="445.1" r="3.0" fill="#000"/>
<circle cx="167.1" cy="421.6" r="3.0" fill="#000"/>
<circle cx="229.5" cy="412.8" r="3.0" fill="#000"/>
<circle cx="285" cy="395.4" r="3.0" fill="#000"/>
<circle cx="345.5" cy="362.7" r="3.0" fill="#000"/>
<path d="M48.5 274.9H54.7M57.5 274.9H59.2M66.2 274.9H72.2" stroke="#333" stroke-width="1.1"/>
<circle cx="61.7" cy="274.9" r="2.6" fill="#fff" stroke="#333" stroke-width="1.05"/>
<path d="M48.5 282.7H74.5" stroke="#555" stroke-width="1.15"/>
<circle cx="61.7" cy="282.7" r="3.0" fill="#000"/>
<text class="lg" x="79" y="276.9" font-size="7.3" fill="#111">Males</text>
<text class="lg" x="79" y="284.8" font-size="7.3" fill="#111">Females</text>
<path d="M119.7 536.8V585.3M115.7 536.8h8M115.7 585.3h8M109.5 561H130.3M109.5 557.8v6.4M130.3 557.8v6.4M164.2 549.5V607.7M160.2 549.5h8M160.2 607.7h8M149.5 578.4H177.7M149.5 575.2v6.4M177.7 575.2v6.4M224.3 567.5V616M220.3 567.5h8M220.3 616h8M208.5 591.9H240.6M208.5 588.7v6.4M240.6 588.7v6.4M282.8 589.6V660.3M278.8 589.6h8M278.8 660.3h8M271.7 624.6H293.6M271.7 621.4v6.4M293.6 621.4v6.4M340.1 625.5V723M336.1 625.5h8M336.1 723h8" fill="none" stroke="#363636" stroke-width="1.1"/>
<path d="M47.4 568.4L119.7 561L164.2 578.4L224.3 591.9L282.8 624.6L340.1 673.8" fill="none" stroke="#333" stroke-width="1.1" stroke-dasharray="10.5 3.5"/>
<circle cx="47.4" cy="568.4" r="2.8" fill="#fff" stroke="#333" stroke-width="1"/>
<circle cx="119.7" cy="561" r="2.8" fill="#fff" stroke="#333" stroke-width="1"/>
<circle cx="164.2" cy="578.4" r="2.8" fill="#fff" stroke="#333" stroke-width="1"/>
<circle cx="224.3" cy="591.9" r="2.8" fill="#fff" stroke="#333" stroke-width="1"/>
<circle cx="282.8" cy="624.6" r="2.8" fill="#fff" stroke="#333" stroke-width="1"/>
<circle cx="340.1" cy="673.8" r="2.8" fill="#fff" stroke="#333" stroke-width="1"/>
<path d="M119.2 552.8V559.5M115.2 552.8h8M115.2 559.5h8M111.8 555.8H126.4M111.8 552.6v6.4M126.4 552.6v6.4M164.4 534.6V621.9M160.4 534.6h8M160.4 621.9h8M142.7 578.4H187.1M142.7 575.2v6.4M187.1 575.2v6.4M226.4 536.1V639.3M222.4 536.1h8M222.4 639.3h8M214.9 587.6H237.4M214.9 584.4v6.4M237.4 584.4v6.4M280.5 550.4V653.3M276.5 550.4h8M276.5 653.3h8M269.5 601.8H292M269.5 598.6v6.4M292 598.6v6.4M340.1 586V702.2M336.1 586h8M336.1 702.2h8" fill="none" stroke="#111" stroke-width="1.05"/>
<path d="M47.4 568.4L119.2 555.8L164.4 578.4L226.4 587.6L280.5 601.8L340.1 644" fill="none" stroke="#000" stroke-width="1.1"/>
<circle cx="47.4" cy="568.4" r="3.1" fill="#000"/>
<circle cx="119.2" cy="555.8" r="3.1" fill="#000"/>
<circle cx="164.4" cy="578.4" r="3.1" fill="#000"/>
<circle cx="226.4" cy="587.6" r="3.1" fill="#000"/>
<circle cx="280.5" cy="601.8" r="3.1" fill="#000"/>
<circle cx="340.1" cy="644" r="3.1" fill="#000"/>
<path d="M48.5 715.2H54.2M57.5 715.2H58.7M66.2 715.2H72" stroke="#333" stroke-width="1.1"/>
<circle cx="61.5" cy="715.2" r="2.6" fill="#fff" stroke="#333" stroke-width="1.05"/>
<path d="M48.5 724H74.7" stroke="#111" stroke-width="1.15"/>
<circle cx="61.5" cy="724" r="3.0" fill="#000"/>
<text class="lg" x="78.8" y="717.2" font-size="7.25" fill="#111">Males</text>
<text class="lg" x="78.8" y="726.1" font-size="7.25" fill="#111">Females</text>
<path d="M120.6 810.6V846.9M116.6 810.6h8M116.6 846.9h8M110 828.6H130.9M110 825.4v6.4M130.9 825.4v6.4M164.6 796.1V844M160.6 796.1h8M160.6 844h8M150.6 820.1H178.3M150.6 816.9v6.4M178.3 816.9v6.4M225.9 773.6V850.8M221.9 773.6h8M221.9 850.8h8M209.7 812.2H241.9M209.7 809v6.4M241.9 809v6.4M284.1 807.2V884.6M280.1 807.2h8M280.1 884.6h8M273.3 845.8H295.4M273.3 842.6v6.4M295.4 842.6v6.4M342.1 880.3V974M338.1 880.3h8M338.1 974h8" fill="none" stroke="#363636" stroke-width="1.0"/>
<path d="M47.4 897.5L120.6 828.6L164.6 820.1L225.9 812.2L284.1 845.8L342.1 921.4" fill="none" stroke="#333" stroke-width="1.0" stroke-dasharray="18 6"/>
<circle cx="47.4" cy="897.5" r="2.5" fill="#fff" stroke="#333" stroke-width="1"/>
<circle cx="120.6" cy="828.6" r="2.5" fill="#fff" stroke="#333" stroke-width="1"/>
<circle cx="164.6" cy="820.1" r="2.5" fill="#fff" stroke="#333" stroke-width="1"/>
<circle cx="225.9" cy="812.2" r="2.5" fill="#fff" stroke="#333" stroke-width="1"/>
<circle cx="284.1" cy="845.8" r="2.5" fill="#fff" stroke="#333" stroke-width="1"/>
<circle cx="342.1" cy="921.4" r="2.5" fill="#fff" stroke="#333" stroke-width="1"/>
<path d="M119.7 837.2V880.8M115.7 837.2h8M115.7 880.8h8M112.2 858.9H127.3M112.2 855.7v6.4M127.3 855.7v6.4M165.7 794.3V861.6M161.7 794.3h8M161.7 861.6h8M143.8 828.2H188.3M143.8 825v6.4M188.3 825v6.4M227.7 797V882.4M223.7 797h8M223.7 882.4h8M216 839.2H239M216 836v6.4M239 836v6.4M282.6 803.4V905.4M278.6 803.4h8M278.6 905.4h8M271.1 854.1H293.6M271.1 850.9v6.4M293.6 850.9v6.4M342.1 854.6V969.7M338.1 854.6h8M338.1 969.7h8" fill="none" stroke="#111" stroke-width="0.95"/>
<path d="M47.4 897.5L119.7 858.9L165.7 828.2L227.7 839.2L282.6 854.1L342.1 913.9" fill="none" stroke="#000" stroke-width="1.0"/>
<circle cx="47.4" cy="897.5" r="2.8" fill="#000"/>
<circle cx="119.7" cy="858.9" r="2.8" fill="#000"/>
<circle cx="165.7" cy="828.2" r="2.8" fill="#000"/>
<circle cx="227.7" cy="839.2" r="2.8" fill="#000"/>
<circle cx="282.6" cy="854.1" r="2.8" fill="#000"/>
<circle cx="342.1" cy="913.9" r="2.8" fill="#000"/>
<path d="M58.1 785.9H61.5M68.3 785.9H71.7" stroke="#333" stroke-width="1.1"/>
<circle cx="64.9" cy="785.9" r="2.6" fill="#fff" stroke="#333" stroke-width="1.05"/>
<path d="M58.1 794.1H71.7" stroke="#111" stroke-width="1.15"/>
<circle cx="64.9" cy="794.1" r="3.0" fill="#000"/>
<text class="lg" x="75.4" y="787.9" font-size="6.05" fill="#111">Males</text>
<text class="lg" x="75.4" y="796.3" font-size="6.05" fill="#111">Females</text>
<path d="M46.3 228.5H350" fill="none" stroke="#777" stroke-width="0.9"/>
<path d="M46.3 16.5V229" fill="none" stroke="#333" stroke-width="1.2"/>
<path d="M41.9 222H46.3" stroke="#333" stroke-width="1.05"/>
<text x="39.1" y="226.1" font-size="10.6" text-anchor="end" fill="#111">−5</text>
<path d="M41.9 190H46.3" stroke="#333" stroke-width="1.05"/>
<text x="39.1" y="194.1" font-size="10.6" text-anchor="end" fill="#111">0</text>
<path d="M41.9 158H46.3" stroke="#333" stroke-width="1.05"/>
<text x="39.1" y="162.1" font-size="10.6" text-anchor="end" fill="#111">5</text>
<path d="M41.9 126H46.3" stroke="#333" stroke-width="1.05"/>
<text x="39.1" y="130.1" font-size="10.6" text-anchor="end" fill="#111">10</text>
<path d="M41.9 94H46.3" stroke="#333" stroke-width="1.05"/>
<text x="39.1" y="98.1" font-size="10.6" text-anchor="end" fill="#111">15</text>
<path d="M41.9 62H46.3" stroke="#333" stroke-width="1.05"/>
<text x="39.1" y="66.1" font-size="10.6" text-anchor="end" fill="#111">20</text>
<path d="M41.9 30H46.3" stroke="#333" stroke-width="1.05"/>
<text x="39.1" y="34.1" font-size="10.6" text-anchor="end" fill="#111">25</text>
<path d="M49 228.5V233.2" stroke="#333" stroke-width="1.05"/>
<text x="49" y="244.7" font-size="10.6" text-anchor="middle" fill="#111">0</text>
<path d="M108.52 228.5V233.2" stroke="#333" stroke-width="1.05"/>
<text x="108.52" y="244.7" font-size="10.6" text-anchor="middle" fill="#111">20</text>
<path d="M168.04 228.5V233.2" stroke="#333" stroke-width="1.05"/>
<text x="168.04" y="244.7" font-size="10.6" text-anchor="middle" fill="#111">40</text>
<path d="M227.56 228.5V233.2" stroke="#333" stroke-width="1.05"/>
<text x="227.56" y="244.7" font-size="10.6" text-anchor="middle" fill="#111">60</text>
<path d="M287.08 228.5V233.2" stroke="#333" stroke-width="1.05"/>
<text x="287.08" y="244.7" font-size="10.6" text-anchor="middle" fill="#111">80</text>
<path d="M346.6 228.5V233.2" stroke="#333" stroke-width="1.05"/>
<text x="346.6" y="244.7" font-size="10.6" text-anchor="middle" fill="#111">100</text>
<path d="M396.5 16.5V228.3H701" fill="none" stroke="#333" stroke-width="1.2"/>
<path d="M392.1 222.1H396.5" stroke="#333" stroke-width="1.05"/>
<text x="389.3" y="226.2" font-size="10.6" text-anchor="end" fill="#111">−5</text>
<path d="M392.1 190.1H396.5" stroke="#333" stroke-width="1.05"/>
<text x="389.3" y="194.2" font-size="10.6" text-anchor="end" fill="#111">0</text>
<path d="M392.1 158.1H396.5" stroke="#333" stroke-width="1.05"/>
<text x="389.3" y="162.2" font-size="10.6" text-anchor="end" fill="#111">5</text>
<path d="M392.1 126.1H396.5" stroke="#333" stroke-width="1.05"/>
<text x="389.3" y="130.2" font-size="10.6" text-anchor="end" fill="#111">10</text>
<path d="M392.1 94.1H396.5" stroke="#333" stroke-width="1.05"/>
<text x="389.3" y="98.2" font-size="10.6" text-anchor="end" fill="#111">15</text>
<path d="M392.1 62.1H396.5" stroke="#333" stroke-width="1.05"/>
<text x="389.3" y="66.2" font-size="10.6" text-anchor="end" fill="#111">20</text>
<path d="M392.1 30.1H396.5" stroke="#333" stroke-width="1.05"/>
<text x="389.3" y="34.2" font-size="10.6" text-anchor="end" fill="#111">25</text>
<path d="M399.4 228.3V233" stroke="#333" stroke-width="1.05"/>
<text x="399.4" y="244.8" font-size="10.6" text-anchor="middle" fill="#111">0</text>
<path d="M459.22 228.3V233" stroke="#333" stroke-width="1.05"/>
<text x="459.22" y="244.8" font-size="10.6" text-anchor="middle" fill="#111">20</text>
<path d="M519.04 228.3V233" stroke="#333" stroke-width="1.05"/>
<text x="519.04" y="244.8" font-size="10.6" text-anchor="middle" fill="#111">40</text>
<path d="M578.86 228.3V233" stroke="#333" stroke-width="1.05"/>
<text x="578.86" y="244.8" font-size="10.6" text-anchor="middle" fill="#111">60</text>
<path d="M638.68 228.3V233" stroke="#333" stroke-width="1.05"/>
<text x="638.68" y="244.8" font-size="10.6" text-anchor="middle" fill="#111">80</text>
<path d="M698.5 228.3V233" stroke="#333" stroke-width="1.05"/>
<text x="698.5" y="244.8" font-size="10.6" text-anchor="middle" fill="#111">100</text>
<path d="M44.9 267.3V481.1H348.5" fill="none" stroke="#333" stroke-width="1.2"/>
<path d="M40.5 478.3H44.9" stroke="#333" stroke-width="1.05"/>
<text x="37.7" y="482.4" font-size="10.6" text-anchor="end" fill="#111">0</text>
<path d="M40.5 447.25H44.9" stroke="#333" stroke-width="1.05"/>
<text x="37.7" y="451.35" font-size="10.6" text-anchor="end" fill="#111">10</text>
<path d="M40.5 416.2H44.9" stroke="#333" stroke-width="1.05"/>
<text x="37.7" y="420.3" font-size="10.6" text-anchor="end" fill="#111">20</text>
<path d="M40.5 385.15H44.9" stroke="#333" stroke-width="1.05"/>
<text x="37.7" y="389.25" font-size="10.6" text-anchor="end" fill="#111">30</text>
<path d="M40.5 354.1H44.9" stroke="#333" stroke-width="1.05"/>
<text x="37.7" y="358.2" font-size="10.6" text-anchor="end" fill="#111">40</text>
<path d="M40.5 323.05H44.9" stroke="#333" stroke-width="1.05"/>
<text x="37.7" y="327.15" font-size="10.6" text-anchor="end" fill="#111">50</text>
<path d="M40.5 292H44.9" stroke="#333" stroke-width="1.05"/>
<text x="37.7" y="296.1" font-size="10.6" text-anchor="end" fill="#111">60</text>
<path d="M47.4 481.1V485.8" stroke="#333" stroke-width="1.05"/>
<text x="47.4" y="497.1" font-size="10.6" text-anchor="middle" fill="#111">0</text>
<path d="M107.02 481.1V485.8" stroke="#333" stroke-width="1.05"/>
<text x="107.02" y="497.1" font-size="10.6" text-anchor="middle" fill="#111">20</text>
<path d="M166.64 481.1V485.8" stroke="#333" stroke-width="1.05"/>
<text x="166.64" y="497.1" font-size="10.6" text-anchor="middle" fill="#111">40</text>
<path d="M226.26 481.1V485.8" stroke="#333" stroke-width="1.05"/>
<text x="226.26" y="497.1" font-size="10.6" text-anchor="middle" fill="#111">60</text>
<path d="M285.88 481.1V485.8" stroke="#333" stroke-width="1.05"/>
<text x="285.88" y="497.1" font-size="10.6" text-anchor="middle" fill="#111">80</text>
<path d="M345.5 481.1V485.8" stroke="#333" stroke-width="1.05"/>
<text x="345.5" y="497.1" font-size="10.6" text-anchor="middle" fill="#111">100</text>
<path d="M394.4 267.3V480.3H702.5" fill="none" stroke="#333" stroke-width="1.2"/>
<path d="M390 473.8H394.4" stroke="#333" stroke-width="1.05"/>
<text x="387.2" y="477.9" font-size="10.6" text-anchor="end" fill="#111">0</text>
<path d="M390 443.8H394.4" stroke="#333" stroke-width="1.05"/>
<text x="387.2" y="447.9" font-size="10.6" text-anchor="end" fill="#111">10</text>
<path d="M390 413.8H394.4" stroke="#333" stroke-width="1.05"/>
<text x="387.2" y="417.9" font-size="10.6" text-anchor="end" fill="#111">20</text>
<path d="M390 383.8H394.4" stroke="#333" stroke-width="1.05"/>
<text x="387.2" y="387.9" font-size="10.6" text-anchor="end" fill="#111">30</text>
<path d="M390 353.8H394.4" stroke="#333" stroke-width="1.05"/>
<text x="387.2" y="357.9" font-size="10.6" text-anchor="end" fill="#111">40</text>
<path d="M390 323.8H394.4" stroke="#333" stroke-width="1.05"/>
<text x="387.2" y="327.9" font-size="10.6" text-anchor="end" fill="#111">50</text>
<path d="M390 293.8H394.4" stroke="#333" stroke-width="1.05"/>
<text x="387.2" y="297.9" font-size="10.6" text-anchor="end" fill="#111">60</text>
<path d="M396.9 480.3V485" stroke="#333" stroke-width="1.05"/>
<text x="396.9" y="496.8" font-size="10.6" text-anchor="middle" fill="#111">0</text>
<path d="M457.52 480.3V485" stroke="#333" stroke-width="1.05"/>
<text x="457.52" y="496.8" font-size="10.6" text-anchor="middle" fill="#111">20</text>
<path d="M518.14 480.3V485" stroke="#333" stroke-width="1.05"/>
<text x="518.14" y="496.8" font-size="10.6" text-anchor="middle" fill="#111">40</text>
<path d="M578.76 480.3V485" stroke="#333" stroke-width="1.05"/>
<text x="578.76" y="496.8" font-size="10.6" text-anchor="middle" fill="#111">60</text>
<path d="M639.38 480.3V485" stroke="#333" stroke-width="1.05"/>
<text x="639.38" y="496.8" font-size="10.6" text-anchor="middle" fill="#111">80</text>
<path d="M700 480.3V485" stroke="#333" stroke-width="1.05"/>
<text x="700" y="496.8" font-size="10.6" text-anchor="middle" fill="#111">100</text>
<path d="M44.8 520.8V732H342.8" fill="none" stroke="#333" stroke-width="1.2"/>
<path d="M40.4 728.9H44.8" stroke="#333" stroke-width="1.05"/>
<text x="38.9" y="733" font-size="10.6" text-anchor="end" fill="#111">−50</text>
<path d="M40.4 696.78H44.8" stroke="#333" stroke-width="1.05"/>
<text x="38.9" y="700.88" font-size="10.6" text-anchor="end" fill="#111">−40</text>
<path d="M40.4 664.66H44.8" stroke="#333" stroke-width="1.05"/>
<text x="38.9" y="668.76" font-size="10.6" text-anchor="end" fill="#111">−30</text>
<path d="M40.4 632.54H44.8" stroke="#333" stroke-width="1.05"/>
<text x="38.9" y="636.64" font-size="10.6" text-anchor="end" fill="#111">−20</text>
<path d="M40.4 600.42H44.8" stroke="#333" stroke-width="1.05"/>
<text x="38.9" y="604.52" font-size="10.6" text-anchor="end" fill="#111">−10</text>
<path d="M40.4 568.3H44.8" stroke="#333" stroke-width="1.05"/>
<text x="37.6" y="572.4" font-size="10.6" text-anchor="end" fill="#111">0</text>
<path d="M40.4 536.18H44.8" stroke="#333" stroke-width="1.05"/>
<text x="37.6" y="540.28" font-size="10.6" text-anchor="end" fill="#111">10</text>
<path d="M47.3 732V736.7" stroke="#333" stroke-width="1.05"/>
<text x="47.3" y="748" font-size="10.6" text-anchor="middle" fill="#111">0</text>
<path d="M105.86 732V736.7" stroke="#333" stroke-width="1.05"/>
<text x="105.86" y="748" font-size="10.6" text-anchor="middle" fill="#111">20</text>
<path d="M164.42 732V736.7" stroke="#333" stroke-width="1.05"/>
<text x="164.42" y="748" font-size="10.6" text-anchor="middle" fill="#111">40</text>
<path d="M222.98 732V736.7" stroke="#333" stroke-width="1.05"/>
<text x="222.98" y="748" font-size="10.6" text-anchor="middle" fill="#111">60</text>
<path d="M281.54 732V736.7" stroke="#333" stroke-width="1.05"/>
<text x="281.54" y="748" font-size="10.6" text-anchor="middle" fill="#111">80</text>
<path d="M340.1 732V736.7" stroke="#333" stroke-width="1.05"/>
<text x="340.1" y="748" font-size="10.6" text-anchor="middle" fill="#111">100</text>
<path d="M393.9 520.3V732H692" fill="none" stroke="#333" stroke-width="1.2"/>
<path d="M389.5 728.9H393.9" stroke="#333" stroke-width="1.05"/>
<text x="388" y="733" font-size="10.6" text-anchor="end" fill="#111">−50</text>
<path d="M389.5 696.78H393.9" stroke="#333" stroke-width="1.05"/>
<text x="388" y="700.88" font-size="10.6" text-anchor="end" fill="#111">−40</text>
<path d="M389.5 664.66H393.9" stroke="#333" stroke-width="1.05"/>
<text x="388" y="668.76" font-size="10.6" text-anchor="end" fill="#111">−30</text>
<path d="M389.5 632.54H393.9" stroke="#333" stroke-width="1.05"/>
<text x="388" y="636.64" font-size="10.6" text-anchor="end" fill="#111">−20</text>
<path d="M389.5 600.42H393.9" stroke="#333" stroke-width="1.05"/>
<text x="388" y="604.52" font-size="10.6" text-anchor="end" fill="#111">−10</text>
<path d="M389.5 568.3H393.9" stroke="#333" stroke-width="1.05"/>
<text x="386.7" y="572.4" font-size="10.6" text-anchor="end" fill="#111">0</text>
<path d="M389.5 536.18H393.9" stroke="#333" stroke-width="1.05"/>
<text x="386.7" y="540.28" font-size="10.6" text-anchor="end" fill="#111">10</text>
<path d="M396.6 732V736.7" stroke="#333" stroke-width="1.05"/>
<text x="396.6" y="748" font-size="10.6" text-anchor="middle" fill="#111">0</text>
<path d="M455.14 732V736.7" stroke="#333" stroke-width="1.05"/>
<text x="455.14" y="748" font-size="10.6" text-anchor="middle" fill="#111">20</text>
<path d="M513.68 732V736.7" stroke="#333" stroke-width="1.05"/>
<text x="513.68" y="748" font-size="10.6" text-anchor="middle" fill="#111">40</text>
<path d="M572.22 732V736.7" stroke="#333" stroke-width="1.05"/>
<text x="572.22" y="748" font-size="10.6" text-anchor="middle" fill="#111">60</text>
<path d="M630.76 732V736.7" stroke="#333" stroke-width="1.05"/>
<text x="630.76" y="748" font-size="10.6" text-anchor="middle" fill="#111">80</text>
<path d="M689.3 732V736.7" stroke="#333" stroke-width="1.05"/>
<text x="689.3" y="748" font-size="10.6" text-anchor="middle" fill="#111">100</text>
<path d="M44.8 771.6V981.6H345.1" fill="none" stroke="#333" stroke-width="1.2"/>
<path d="M40.4 950H44.8" stroke="#333" stroke-width="1.05"/>
<text x="38" y="954.1" font-size="10.6" text-anchor="end" fill="#111">−5</text>
<path d="M40.4 897.5H44.8" stroke="#333" stroke-width="1.05"/>
<text x="38" y="901.6" font-size="10.6" text-anchor="end" fill="#111">0</text>
<path d="M40.4 845H44.8" stroke="#333" stroke-width="1.05"/>
<text x="38" y="849.1" font-size="10.6" text-anchor="end" fill="#111">5</text>
<path d="M40.4 792.5H44.8" stroke="#333" stroke-width="1.05"/>
<text x="38" y="796.6" font-size="10.6" text-anchor="end" fill="#111">10</text>
<path d="M47.3 981.6V986.3" stroke="#333" stroke-width="1.05"/>
<text x="47.3" y="999.1" font-size="10.6" text-anchor="middle" fill="#111">0</text>
<path d="M106.26 981.6V986.3" stroke="#333" stroke-width="1.05"/>
<text x="106.26" y="999.1" font-size="10.6" text-anchor="middle" fill="#111">20</text>
<path d="M165.22 981.6V986.3" stroke="#333" stroke-width="1.05"/>
<text x="165.22" y="999.1" font-size="10.6" text-anchor="middle" fill="#111">40</text>
<path d="M224.18 981.6V986.3" stroke="#333" stroke-width="1.05"/>
<text x="224.18" y="999.1" font-size="10.6" text-anchor="middle" fill="#111">60</text>
<path d="M283.14 981.6V986.3" stroke="#333" stroke-width="1.05"/>
<text x="283.14" y="999.1" font-size="10.6" text-anchor="middle" fill="#111">80</text>
<path d="M342.1 981.6V986.3" stroke="#333" stroke-width="1.05"/>
<text x="342.1" y="999.1" font-size="10.6" text-anchor="middle" fill="#111">100</text>
<path d="M393.9 771.6V981.6H693.5" fill="none" stroke="#333" stroke-width="1.2"/>
<path d="M389.5 950H393.9" stroke="#333" stroke-width="1.05"/>
<text x="387.1" y="954.1" font-size="10.6" text-anchor="end" fill="#111">−5</text>
<path d="M389.5 897.5H393.9" stroke="#333" stroke-width="1.05"/>
<text x="387.1" y="901.6" font-size="10.6" text-anchor="end" fill="#111">0</text>
<path d="M389.5 845H393.9" stroke="#333" stroke-width="1.05"/>
<text x="387.1" y="849.1" font-size="10.6" text-anchor="end" fill="#111">5</text>
<path d="M389.5 792.5H393.9" stroke="#333" stroke-width="1.05"/>
<text x="387.1" y="796.6" font-size="10.6" text-anchor="end" fill="#111">10</text>
<path d="M396.6 981.6V986.3" stroke="#333" stroke-width="1.05"/>
<text x="396.6" y="999.1" font-size="10.6" text-anchor="middle" fill="#111">0</text>
<path d="M455.44 981.6V986.3" stroke="#333" stroke-width="1.05"/>
<text x="455.44" y="999.1" font-size="10.6" text-anchor="middle" fill="#111">20</text>
<path d="M514.28 981.6V986.3" stroke="#333" stroke-width="1.05"/>
<text x="514.28" y="999.1" font-size="10.6" text-anchor="middle" fill="#111">40</text>
<path d="M573.12 981.6V986.3" stroke="#333" stroke-width="1.05"/>
<text x="573.12" y="999.1" font-size="10.6" text-anchor="middle" fill="#111">60</text>
<path d="M631.96 981.6V986.3" stroke="#333" stroke-width="1.05"/>
<text x="631.96" y="999.1" font-size="10.6" text-anchor="middle" fill="#111">80</text>
<path d="M690.8 981.6V986.3" stroke="#333" stroke-width="1.05"/>
<text x="690.8" y="999.1" font-size="10.6" text-anchor="middle" fill="#111">100</text>
<text x="9.2" y="12.1" font-size="17" font-weight="bold" fill="#000">a</text>
<text x="367" y="11.8" font-size="17" font-weight="bold" fill="#000">b</text>
<text x="9.0" y="269.8" font-size="17" font-weight="bold" fill="#000">c</text>
<text x="366.6" y="269.8" font-size="17" font-weight="bold" fill="#000">d</text>
<text x="9.0" y="517.4" font-size="17" font-weight="bold" fill="#000">e</text>
<text x="366.8" y="517.6" font-size="17" font-weight="bold" fill="#000">f</text>
<text x="9.0" y="768.6" font-size="17" font-weight="bold" fill="#000">g</text>
<text x="366.8" y="767.4" font-size="17" font-weight="bold" fill="#000">h</text>
<text transform="translate(17.0 164.1) rotate(-90)" font-size="14.9" textLength="98.9" lengthAdjust="spacingAndGlyphs" fill="#111">Δ MCAv (cm/s)</text>
<text transform="translate(18.3 424.2) rotate(-90)" font-size="15.8" textLength="107.8" lengthAdjust="spacingAndGlyphs" fill="#111">Δ CPP (mmHg)</text>
<text transform="translate(11.8 712.5) rotate(-90)" font-size="15.0" textLength="167.1" lengthAdjust="spacingAndGlyphs" fill="#111">Δ CVCi (cm/s/100mmHg)</text>
<text transform="translate(15.3 923.7) rotate(-90)" font-size="14.6" textLength="110.9" lengthAdjust="spacingAndGlyphs" fill="#111">Δ EtCO<tspan font-size="9.5" dy="2">2</tspan><tspan dy="-2"> (mmHg)</tspan></text>
<text x="169.1" y="1021" font-size="14.65" fill="#111">%W<tspan font-size="9.9" dy="2.1">max</tspan></text>
<text x="519.2" y="1021" font-size="14.65" fill="#111">%W<tspan font-size="9.9" dy="2.1">max</tspan></text>
<text x="544.2" y="217.6" font-size="8.7" textLength="119.3" lengthAdjust="spacingAndGlyphs" fill="#111">Sex*%W<tspan dy="-2.6">2</tspan><tspan dy="2.6">: </tspan><tspan font-style="italic">p</tspan> = 0.091, ω<tspan dy="1.6">p</tspan><tspan dy="-4.2">2</tspan><tspan dy="2.6"> = 0.05</tspan></text>
<text x="548.8" y="468.8" font-size="8.7" textLength="119.9" lengthAdjust="spacingAndGlyphs" fill="#111">Sex*%W<tspan dy="1.2" font-size="5.2">max</tspan><tspan dy="-1.2">: </tspan><tspan font-style="italic">p</tspan>&lt;0.001, ω<tspan dy="1.6">p</tspan><tspan dy="-4.2">2</tspan><tspan dy="2.6"> = 0.25</tspan></text>
<text x="543.4" y="720.8" font-size="8.7" textLength="120.7" lengthAdjust="spacingAndGlyphs" fill="#111">Sex*%W<tspan dy="-2.6">2</tspan><tspan dy="2.6">: </tspan><tspan font-style="italic">p</tspan> = 0.005, ω<tspan dy="1.6">p</tspan><tspan dy="-4.2">2</tspan><tspan dy="2.6"> = 0.15</tspan></text>
<text x="543.8" y="970.8" font-size="8.7" textLength="119.9" lengthAdjust="spacingAndGlyphs" fill="#111">Sex*%W<tspan dy="-2.6" font-size="4.6">2</tspan><tspan dy="2.6">: </tspan><tspan font-style="italic">p</tspan> = 0.606, ω<tspan dy="1.2" font-size="4.6">p</tspan><tspan dy="-3.8" font-size="4.6">2</tspan><tspan dy="2.6"> = −0.03</tspan></text>
<text x="629.8" y="794.3" font-size="6.8" textLength="61" lengthAdjust="spacingAndGlyphs" fill="#111">Confidence α = 0.05</text>
<path d="M639 303.6C639 297.2 642 294.5 648.5 294.5L656.5 294.5C665 294.5 668.9 291.8 669.8 284.2C670.7 291.8 674.6 294.5 683.1 294.5L691.3 294.5C697.8 294.5 700.8 297.2 700.8 303.6" fill="none" stroke="#111" stroke-width="1.25"/>
<polygon points="669.9,277 670.49,278.69 672.28,278.73 670.85,279.81 671.37,281.52 669.9,280.5 668.43,281.52 668.95,279.81 667.52,278.73 669.31,278.69" fill="#111"/>
<polygon points="689.05,587.3 689.64,588.99 691.43,589.03 690,590.11 690.52,591.82 689.05,590.8 687.58,591.82 688.1,590.11 686.67,589.03 688.46,588.99" fill="#111"/>
</svg>
</body></html>
